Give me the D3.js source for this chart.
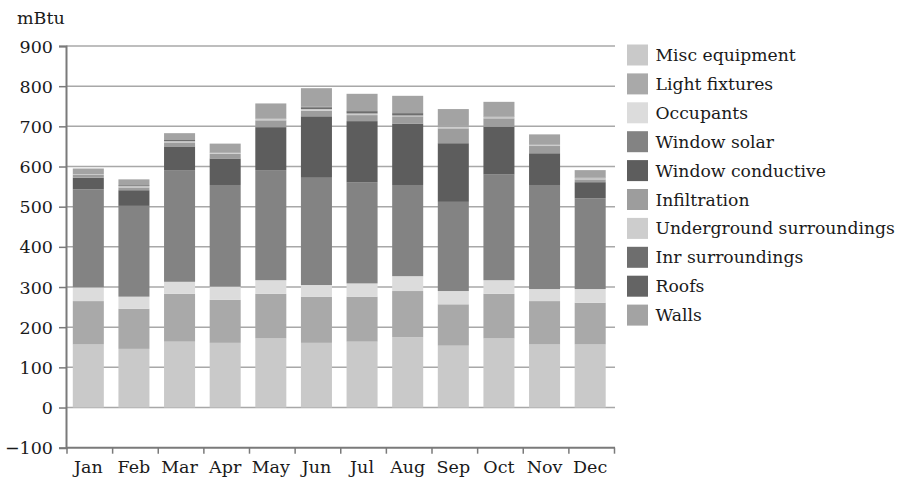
<!DOCTYPE html>
<html><head><meta charset="utf-8">
<script src="https://cdn.jsdelivr.net/npm/d3@7"></script>
<style>body{margin:0;background:#fff}svg{display:block}text{font-family:"DejaVu Serif",serif;fill:#1a1a1a}</style>
</head><body><svg id="c" width="903" height="482"></svg>
<script>
const months = ["Jan","Feb","Mar","Apr","May","Jun","Jul","Aug","Sep","Oct","Nov","Dec"];
// stack order bottom -> top
const seriesNames = ["Misc equipment","Light fixtures","Occupants","Window solar","Window conductive","Infiltration","Underground surroundings","Inr surroundings","Roofs","Walls"];
const miscEquipment   = [157,146,164,161,172,161,164,175,154,172,157,157];
const lightFixtures   = [108,100,119,107,111,115,112,115,103,111,108,104];
const occupants       = [34,30,30,33,34,29,33,37,33,34,30,34];
const windowSolar     = [244,226,278,253,274,267,252,227,222,263,259,226];
const windowCond      = [29,39,59,66,107,153,152,153,146,119,79,40];
const infiltration    = [8,7,10,12,17,14,15,18,37,21,18,7];
const underground     = [1,3,3,2,4,4,4,2,5,3,3,3];
const inrSurroundings = [0,2,3,1,1,4,4,4,1,1,1,1];
const roofs           = [0,1,0,0,0,2,2,2,0,0,0,0];
const walls           = [14,14,17,22,37,46,43,43,42,37,25,19];
const yTicks = [-100,0,100,200,300,400,500,600,700,800,900];
const colors = ["#c9c9c9","#a9a9a9","#dcdcdc","#838383","#5d5d5d","#9d9d9d","#cdcdcd","#6e6e6e","#646464","#a3a3a3"];

const values = [miscEquipment,lightFixtures,occupants,windowSolar,windowCond,infiltration,underground,inrSurroundings,roofs,walls];
const rows = months.map((m,i)=>{const r={month:m}; seriesNames.forEach((s,j)=>r[s]=values[j][i]); return r;});
const stack = d3.stack().keys(seriesNames)(rows);

const svg = d3.select("#c");
const x = d3.scaleBand().domain(months).range([65.5,613]).paddingInner(0.32).paddingOuter(0.16);
const y = d3.scaleLinear().domain([-100,900]).range([447.7,46]);

// gridlines
svg.append("g").selectAll("line").data(yTicks.filter(t=>t>-100)).join("line")
  .attr("x1",66).attr("x2",615).attr("y1",d=>y(d)).attr("y2",d=>y(d))
  .attr("stroke","#a8a8a8").attr("stroke-width",1.5);

// bars
svg.append("g").selectAll("g").data(stack).join("g")
  .attr("fill",(d,i)=>colors[i])
  .selectAll("rect").data(d=>d).join("rect")
  .attr("x",d=>x(d.data.month)).attr("width",x.bandwidth())
  .attr("y",d=>y(d[1])).attr("height",d=>Math.max(0,y(d[0])-y(d[1])));

// y axis
const yAxis = svg.append("g").attr("transform","translate(66,0)")
  .call(d3.axisLeft(y).tickValues(yTicks).tickSize(7).tickPadding(6).tickFormat(d=>d<0?"\u2212"+Math.abs(d):d));
yAxis.select(".domain").attr("stroke","#7a7a7a").attr("stroke-width",2);
yAxis.selectAll(".tick line").attr("stroke","#7a7a7a").attr("stroke-width",1.5);
yAxis.selectAll("text").style("font-size","17.5px").attr("dy","0.35em").attr("fill","#1a1a1a");

// x axis at -100
const step = x.step();
const bounds = d3.range(13).map(i=>65.5+ i*step + 1.5);
const xg = svg.append("g");
xg.append("line").attr("x1",66).attr("x2",615).attr("y1",y(-100)).attr("y2",y(-100)).attr("stroke","#7a7a7a").attr("stroke-width",2);
xg.selectAll("line.t").data(bounds).join("line").attr("class","t")
  .attr("x1",d=>d).attr("x2",d=>d).attr("y1",y(-100)).attr("y2",y(-100)+6).attr("stroke","#7a7a7a").attr("stroke-width",1.5);
xg.selectAll("text").data(months).join("text")
  .attr("x",d=>x(d)+x.bandwidth()/2).attr("y",473).attr("text-anchor","middle")
  .style("font-size","17.5px").text(d=>d);

// unit label
svg.append("text").attr("x",17).attr("y",23.5).style("font-size","17.5px").text("mBtu");

// legend (same order as series list, top to bottom)
const legendItems = seriesNames.map((s,i)=>({name:s,color:colors[i]}));
const lg = svg.append("g").selectAll("g").data(legendItems).join("g")
  .attr("transform",(d,i)=>`translate(627,${44.5+i*28.9})`);
lg.append("rect").attr("width",21).attr("height",21).attr("fill",d=>d.color);
lg.append("text").attr("x",28.5).attr("y",16.5).style("font-size","17.2px").text(d=>d.name);
</script></body></html>
